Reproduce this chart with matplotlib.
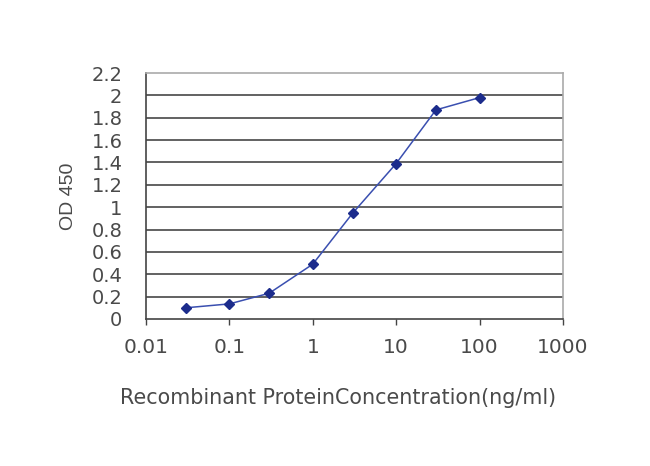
import matplotlib
matplotlib.use("Agg")
import matplotlib.pyplot as plt
from matplotlib.ticker import FixedLocator, NullLocator

conc = [0.03, 0.1, 0.3, 1, 3, 10, 30, 100]
od = [0.10, 0.135, 0.23, 0.49, 0.945, 1.39, 1.87, 1.98]
xticks = [0.01, 0.1, 1, 10, 100, 1000]
xtick_labels = ["0.01", "0.1", "1", "10", "100", "1000"]
yticks = [0, 0.2, 0.4, 0.6, 0.8, 1, 1.2, 1.4, 1.6, 1.8, 2, 2.2]
ytick_labels = ["0", "0.2", "0.4", "0.6", "0.8", "1", "1.2", "1.4", "1.6", "1.8", "2", "2.2"]

plt.rcParams['font.family'] = ['DejaVu Sans']
txt = '#4a4a4a'

fig = plt.figure(figsize=(6.5, 4.66), dpi=100)
ax = fig.add_axes([0.2246, 0.3155, 0.6414, 0.5278])

ax.plot(conc, od, color='#3a4fb0', lw=1.1, marker='D', ms=5,
        mfc='#1c2c8c', mec='#1c2c8c', zorder=3)

ax.set_xscale('log')
ax.set_xlim(0.01, 1000)
ax.set_ylim(0, 2.2)
ax.xaxis.set_major_locator(FixedLocator(xticks))
ax.xaxis.set_minor_locator(NullLocator())
ax.set_xticklabels(xtick_labels)
ax.set_yticks(yticks)
ax.set_yticklabels(ytick_labels)

for y in yticks[1:-1]:
    ax.axhline(y, color='#555555', lw=1.3, zorder=1)

ax.spines['left'].set_color('#444444')
ax.spines['bottom'].set_color('#444444')
ax.spines['top'].set_color('#aaaaaa')
ax.spines['right'].set_color('#aaaaaa')
for s in ax.spines.values():
    s.set_linewidth(1.2)

ax.tick_params(axis='x', direction='out', length=4, width=1, color='#444444',
               labelsize=14.5, labelcolor=txt, pad=10)
ax.tick_params(axis='y', length=0, labelsize=14, labelcolor=txt, pad=17)

ax.set_ylabel('OD 450', fontsize=14, color=txt, family='Liberation Sans', va='center')
ax.yaxis.set_label_coords(-0.187, 0.5)
ax.set_xlabel('Recombinant ProteinConcentration(ng/ml)', fontsize=14.9, color=txt, va='center')
ax.xaxis.set_label_coords(0.4616, -0.321)

fig.savefig('out.png', dpi=100)
